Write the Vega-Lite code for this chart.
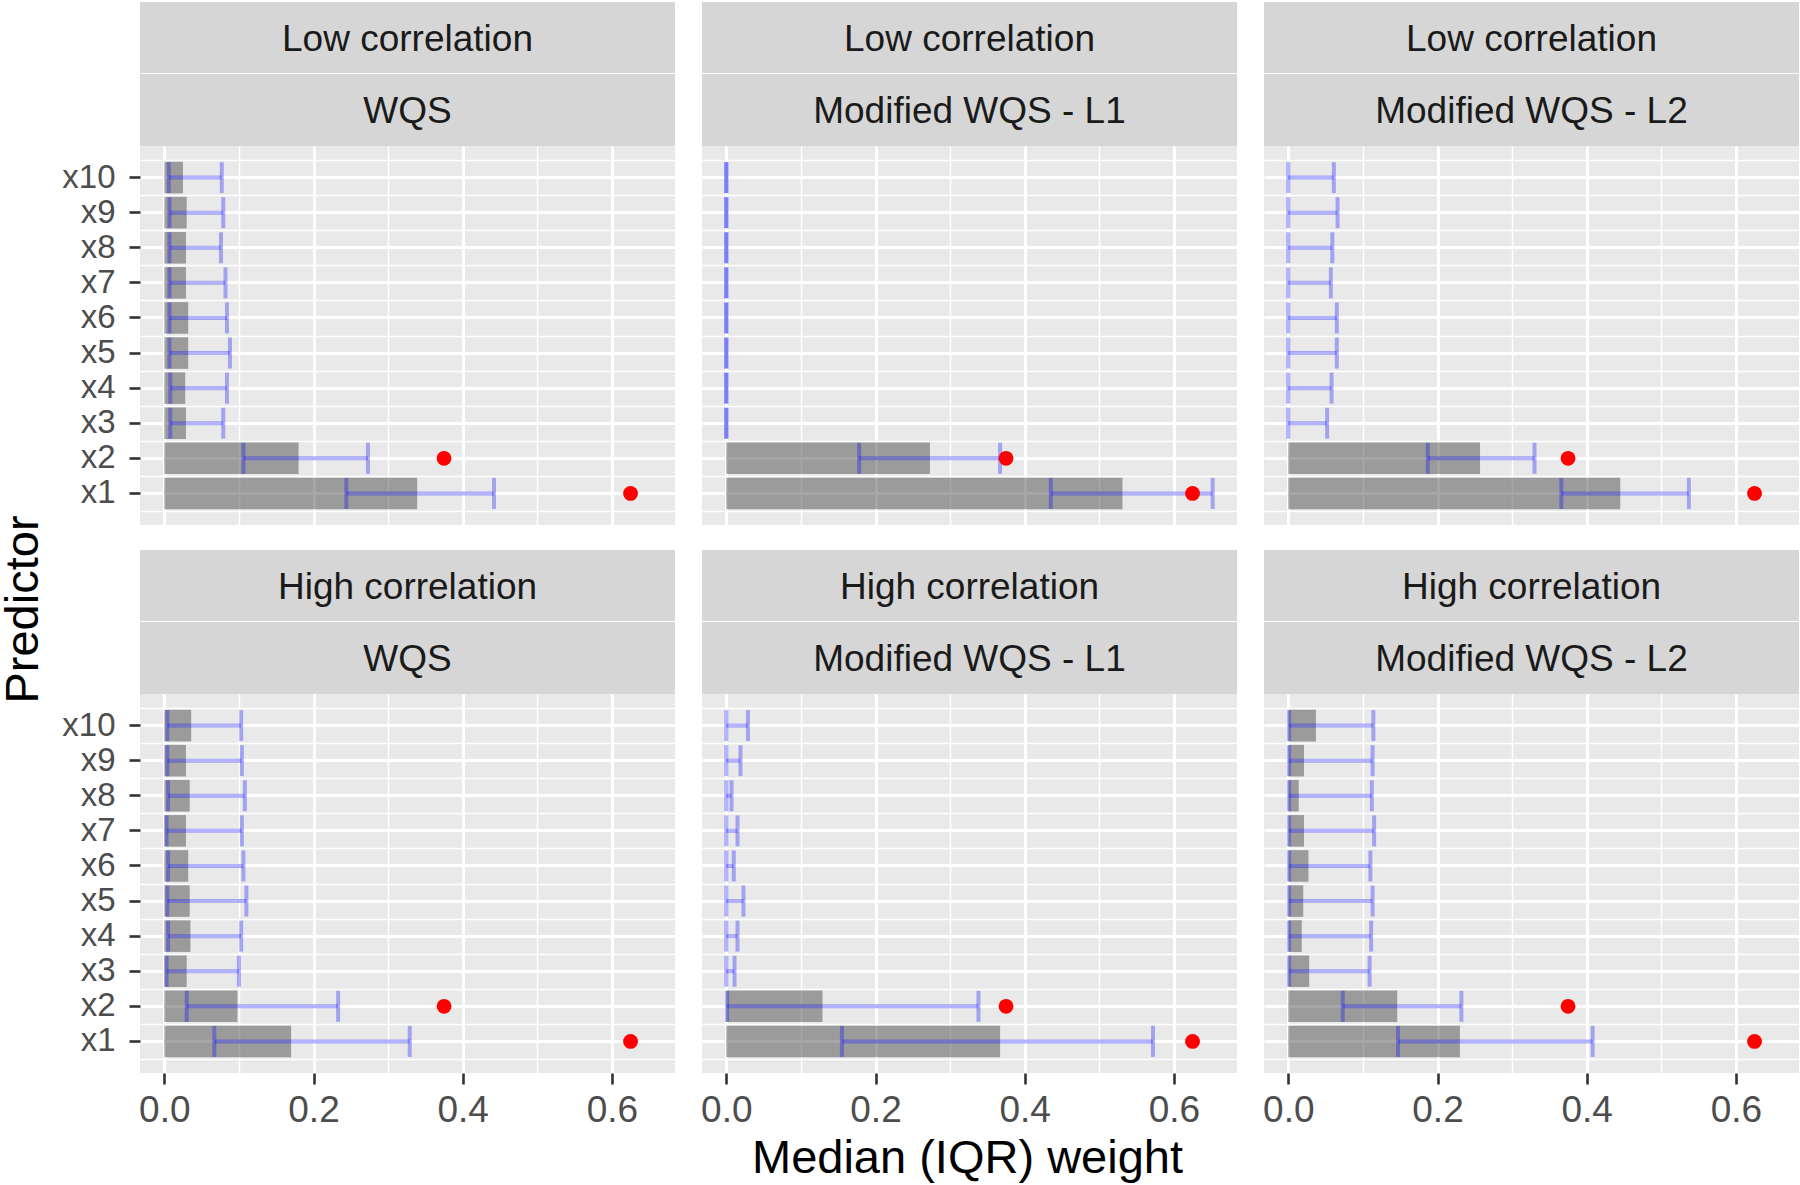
{
"$schema": "https://vega.github.io/schema/vega-lite/v6.json",
"padding": {"top": 2, "left": 0, "right": 1, "bottom": 0},
"config": {"view": {"stroke": null}, "font": "Liberation Sans"},
"datasets": {
 "w": [
  {"c":"Low","m":"WQS","p":"x1","med":0.339,"lo":0.244,"hi":0.442,"tw":0.625},
  {"c":"Low","m":"WQS","p":"x2","med":0.180,"lo":0.106,"hi":0.273,"tw":0.375},
  {"c":"Low","m":"WQS","p":"x3","med":0.029,"lo":0.008,"hi":0.079,"tw":null},
  {"c":"Low","m":"WQS","p":"x4","med":0.028,"lo":0.008,"hi":0.084,"tw":null},
  {"c":"Low","m":"WQS","p":"x5","med":0.032,"lo":0.007,"hi":0.088,"tw":null},
  {"c":"Low","m":"WQS","p":"x6","med":0.032,"lo":0.007,"hi":0.084,"tw":null},
  {"c":"Low","m":"WQS","p":"x7","med":0.029,"lo":0.007,"hi":0.082,"tw":null},
  {"c":"Low","m":"WQS","p":"x8","med":0.029,"lo":0.007,"hi":0.076,"tw":null},
  {"c":"Low","m":"WQS","p":"x9","med":0.030,"lo":0.007,"hi":0.079,"tw":null},
  {"c":"Low","m":"WQS","p":"x10","med":0.025,"lo":0.006,"hi":0.077,"tw":null},
  {"c":"Low","m":"L1","p":"x1","med":0.531,"lo":0.435,"hi":0.652,"tw":0.625},
  {"c":"Low","m":"L1","p":"x2","med":0.273,"lo":0.178,"hi":0.367,"tw":0.375},
  {"c":"Low","m":"L1","p":"x3","med":0,"lo":0,"hi":0,"tw":null},
  {"c":"Low","m":"L1","p":"x4","med":0,"lo":0,"hi":0,"tw":null},
  {"c":"Low","m":"L1","p":"x5","med":0,"lo":0,"hi":0,"tw":null},
  {"c":"Low","m":"L1","p":"x6","med":0,"lo":0,"hi":0,"tw":null},
  {"c":"Low","m":"L1","p":"x7","med":0,"lo":0,"hi":0,"tw":null},
  {"c":"Low","m":"L1","p":"x8","med":0,"lo":0,"hi":0,"tw":null},
  {"c":"Low","m":"L1","p":"x9","med":0,"lo":0,"hi":0,"tw":null},
  {"c":"Low","m":"L1","p":"x10","med":0,"lo":0,"hi":0,"tw":null},
  {"c":"Low","m":"L2","p":"x1","med":0.445,"lo":0.366,"hi":0.537,"tw":0.625},
  {"c":"Low","m":"L2","p":"x2","med":0.257,"lo":0.187,"hi":0.330,"tw":0.375},
  {"c":"Low","m":"L2","p":"x3","med":0,"lo":0,"hi":0.052,"tw":null},
  {"c":"Low","m":"L2","p":"x4","med":0,"lo":0,"hi":0.058,"tw":null},
  {"c":"Low","m":"L2","p":"x5","med":0,"lo":0,"hi":0.065,"tw":null},
  {"c":"Low","m":"L2","p":"x6","med":0,"lo":0,"hi":0.065,"tw":null},
  {"c":"Low","m":"L2","p":"x7","med":0,"lo":0,"hi":0.057,"tw":null},
  {"c":"Low","m":"L2","p":"x8","med":0,"lo":0,"hi":0.059,"tw":null},
  {"c":"Low","m":"L2","p":"x9","med":0,"lo":0,"hi":0.066,"tw":null},
  {"c":"Low","m":"L2","p":"x10","med":0,"lo":0,"hi":0.061,"tw":null},
  {"c":"High","m":"WQS","p":"x1","med":0.170,"lo":0.067,"hi":0.329,"tw":0.625},
  {"c":"High","m":"WQS","p":"x2","med":0.098,"lo":0.030,"hi":0.233,"tw":0.375},
  {"c":"High","m":"WQS","p":"x3","med":0.030,"lo":0.003,"hi":0.100,"tw":null},
  {"c":"High","m":"WQS","p":"x4","med":0.035,"lo":0.005,"hi":0.103,"tw":null},
  {"c":"High","m":"WQS","p":"x5","med":0.034,"lo":0.004,"hi":0.110,"tw":null},
  {"c":"High","m":"WQS","p":"x6","med":0.032,"lo":0.005,"hi":0.106,"tw":null},
  {"c":"High","m":"WQS","p":"x7","med":0.029,"lo":0.003,"hi":0.104,"tw":null},
  {"c":"High","m":"WQS","p":"x8","med":0.034,"lo":0.005,"hi":0.108,"tw":null},
  {"c":"High","m":"WQS","p":"x9","med":0.029,"lo":0.004,"hi":0.104,"tw":null},
  {"c":"High","m":"WQS","p":"x10","med":0.036,"lo":0.004,"hi":0.103,"tw":null},
  {"c":"High","m":"L1","p":"x1","med":0.367,"lo":0.155,"hi":0.572,"tw":0.625},
  {"c":"High","m":"L1","p":"x2","med":0.129,"lo":0.001,"hi":0.338,"tw":0.375},
  {"c":"High","m":"L1","p":"x3","med":0,"lo":0,"hi":0.011,"tw":null},
  {"c":"High","m":"L1","p":"x4","med":0,"lo":0,"hi":0.015,"tw":null},
  {"c":"High","m":"L1","p":"x5","med":0,"lo":0,"hi":0.023,"tw":null},
  {"c":"High","m":"L1","p":"x6","med":0,"lo":0,"hi":0.010,"tw":null},
  {"c":"High","m":"L1","p":"x7","med":0,"lo":0,"hi":0.015,"tw":null},
  {"c":"High","m":"L1","p":"x8","med":0,"lo":0,"hi":0.007,"tw":null},
  {"c":"High","m":"L1","p":"x9","med":0,"lo":0,"hi":0.019,"tw":null},
  {"c":"High","m":"L1","p":"x10","med":0,"lo":0,"hi":0.029,"tw":null},
  {"c":"High","m":"L2","p":"x1","med":0.230,"lo":0.147,"hi":0.408,"tw":0.625},
  {"c":"High","m":"L2","p":"x2","med":0.146,"lo":0.073,"hi":0.232,"tw":0.375},
  {"c":"High","m":"L2","p":"x3","med":0.028,"lo":0.001,"hi":0.109,"tw":null},
  {"c":"High","m":"L2","p":"x4","med":0.018,"lo":0.001,"hi":0.111,"tw":null},
  {"c":"High","m":"L2","p":"x5","med":0.020,"lo":0.001,"hi":0.113,"tw":null},
  {"c":"High","m":"L2","p":"x6","med":0.027,"lo":0.001,"hi":0.110,"tw":null},
  {"c":"High","m":"L2","p":"x7","med":0.021,"lo":0.001,"hi":0.115,"tw":null},
  {"c":"High","m":"L2","p":"x8","med":0.014,"lo":0.001,"hi":0.112,"tw":null},
  {"c":"High","m":"L2","p":"x9","med":0.021,"lo":0.001,"hi":0.113,"tw":null},
  {"c":"High","m":"L2","p":"x10","med":0.037,"lo":0.001,"hi":0.114,"tw":null}
 ]
},
"hconcat": [
 {"vconcat": [
   {"width": 38, "height": 144, "data": {"values": [{"t": ""}]}, "mark": {"type": "text"}, "encoding": {"text": {"field": "t"}}},
   {"width": 38, "height": 927, "data": {"values": [{"t": "Predictor"}]}, "mark": {"type": "text", "fontSize": 47, "color": "#000000", "angle": 270, "align": "center", "baseline": "middle"}, "encoding": {"text": {"field": "t"}}}
  ], "spacing": 0},
 {"vconcat": [
   {"concat": [
       {"vconcat": [
         {"vconcat": [
           {"width": 535, "height": 71, "view": {"fill": "#D6D6D6"}, "data": {"values": [{"t": "Low correlation"}]}, "mark": {"type": "text", "fontSize": 37, "color": "#1A1A1A", "align": "center", "baseline": "middle", "dy": 2}, "encoding": {"text": {"field": "t"}}},
           {"width": 535, "height": 72, "view": {"fill": "#D6D6D6"}, "data": {"values": [{"t": "WQS"}]}, "mark": {"type": "text", "fontSize": 37, "color": "#1A1A1A", "align": "center", "baseline": "middle", "dy": 2}, "encoding": {"text": {"field": "t"}}}
          ], "spacing": 1},
         {"width": 535, "height": 379, "view": {"fill": "#E9E9E9"}, "data": {"name": "w"},
          "transform": [{"filter": "datum.c === 'Low' && datum.m === 'WQS'"}],
          "layer": [
           {"mark": {"type": "bar", "color": "#4D4D4D", "opacity": 0.5, "height": {"band": 0.9}},
            "encoding": {
             "y": {"field": "p", "type": "nominal", "sort": ["x10","x9","x8","x7","x6","x5","x4","x3","x2","x1"], "scale": {"type": "band", "paddingInner": 0, "paddingOuter": 0.4},
                   "axis": {"title": null, "orient": "left", "domain": false, "grid": true, "gridColor": "#FFFFFF", "gridWidth": 3, "ticks": true, "tickColor": "#333333", "tickWidth": 2.6, "tickSize": 11, "labels": true, "labelFontSize": 33, "labelColor": "#4D4D4D", "labelPadding": 14}},
             "x": {"field": "med", "type": "quantitative", "scale": {"domain": [-0.0326, 0.6846], "nice": false, "zero": false},
                   "axis": {"title": null, "orient": "bottom", "values": [0, 0.2, 0.4, 0.6], "domain": false, "grid": true, "gridColor": "#FFFFFF", "gridWidth": 3, "ticks": false, "labels": false}}}},
           {"mark": {"type": "rule", "color": "#0000FF", "opacity": 0.3, "strokeWidth": 4},
            "encoding": {
             "y": {"field": "p", "type": "nominal", "sort": ["x10","x9","x8","x7","x6","x5","x4","x3","x2","x1"],
                   "axis": {"title": null, "orient": "right", "domain": false, "grid": true, "gridColor": "#FFFFFF", "gridWidth": 1.5, "ticks": false, "labels": false, "tickBand": "extent"}},
             "x": {"field": "lo", "type": "quantitative",
                   "axis": {"title": null, "orient": "top", "values": [0.1, 0.3, 0.5], "domain": false, "grid": true, "gridColor": "#FFFFFF", "gridWidth": 1.5, "ticks": false, "labels": false}},
             "x2": {"field": "hi"}}},
           {"mark": {"type": "tick", "orient": "vertical", "color": "#0000FF", "opacity": 0.3, "thickness": 4, "size": 31},
            "encoding": {"y": {"field": "p", "type": "nominal", "sort": ["x10","x9","x8","x7","x6","x5","x4","x3","x2","x1"], "axis": null}, "x": {"field": "lo", "type": "quantitative", "axis": null}}},
           {"mark": {"type": "tick", "orient": "vertical", "color": "#0000FF", "opacity": 0.3, "thickness": 4, "size": 31},
            "encoding": {"y": {"field": "p", "type": "nominal", "sort": ["x10","x9","x8","x7","x6","x5","x4","x3","x2","x1"], "axis": null}, "x": {"field": "hi", "type": "quantitative", "axis": null}}},
           {"mark": {"type": "point", "filled": true, "color": "#FF0000", "opacity": 1, "size": 220},
            "encoding": {"y": {"field": "p", "type": "nominal", "sort": ["x10","x9","x8","x7","x6","x5","x4","x3","x2","x1"], "axis": null}, "x": {"field": "tw", "type": "quantitative", "axis": null}}}
          ],
          "resolve": {"axis": {"x": "independent", "y": "independent"}}}
        ], "spacing": 0},
       {"vconcat": [
         {"vconcat": [
           {"width": 535, "height": 71, "view": {"fill": "#D6D6D6"}, "data": {"values": [{"t": "Low correlation"}]}, "mark": {"type": "text", "fontSize": 37, "color": "#1A1A1A", "align": "center", "baseline": "middle", "dy": 2}, "encoding": {"text": {"field": "t"}}},
           {"width": 535, "height": 72, "view": {"fill": "#D6D6D6"}, "data": {"values": [{"t": "Modified WQS - L1"}]}, "mark": {"type": "text", "fontSize": 37, "color": "#1A1A1A", "align": "center", "baseline": "middle", "dy": 2}, "encoding": {"text": {"field": "t"}}}
          ], "spacing": 1},
         {"width": 535, "height": 379, "view": {"fill": "#E9E9E9"}, "data": {"name": "w"},
          "transform": [{"filter": "datum.c === 'Low' && datum.m === 'L1'"}],
          "layer": [
           {"mark": {"type": "bar", "color": "#4D4D4D", "opacity": 0.5, "height": {"band": 0.9}},
            "encoding": {
             "y": {"field": "p", "type": "nominal", "sort": ["x10","x9","x8","x7","x6","x5","x4","x3","x2","x1"], "scale": {"type": "band", "paddingInner": 0, "paddingOuter": 0.4},
                   "axis": {"title": null, "orient": "left", "domain": false, "grid": true, "gridColor": "#FFFFFF", "gridWidth": 3, "ticks": false, "labels": false}},
             "x": {"field": "med", "type": "quantitative", "scale": {"domain": [-0.0326, 0.6846], "nice": false, "zero": false},
                   "axis": {"title": null, "orient": "bottom", "values": [0, 0.2, 0.4, 0.6], "domain": false, "grid": true, "gridColor": "#FFFFFF", "gridWidth": 3, "ticks": false, "labels": false}}}},
           {"mark": {"type": "rule", "color": "#0000FF", "opacity": 0.3, "strokeWidth": 4},
            "encoding": {
             "y": {"field": "p", "type": "nominal", "sort": ["x10","x9","x8","x7","x6","x5","x4","x3","x2","x1"],
                   "axis": {"title": null, "orient": "right", "domain": false, "grid": true, "gridColor": "#FFFFFF", "gridWidth": 1.5, "ticks": false, "labels": false, "tickBand": "extent"}},
             "x": {"field": "lo", "type": "quantitative",
                   "axis": {"title": null, "orient": "top", "values": [0.1, 0.3, 0.5], "domain": false, "grid": true, "gridColor": "#FFFFFF", "gridWidth": 1.5, "ticks": false, "labels": false}},
             "x2": {"field": "hi"}}},
           {"mark": {"type": "tick", "orient": "vertical", "color": "#0000FF", "opacity": 0.3, "thickness": 4, "size": 31},
            "encoding": {"y": {"field": "p", "type": "nominal", "sort": ["x10","x9","x8","x7","x6","x5","x4","x3","x2","x1"], "axis": null}, "x": {"field": "lo", "type": "quantitative", "axis": null}}},
           {"mark": {"type": "tick", "orient": "vertical", "color": "#0000FF", "opacity": 0.3, "thickness": 4, "size": 31},
            "encoding": {"y": {"field": "p", "type": "nominal", "sort": ["x10","x9","x8","x7","x6","x5","x4","x3","x2","x1"], "axis": null}, "x": {"field": "hi", "type": "quantitative", "axis": null}}},
           {"mark": {"type": "point", "filled": true, "color": "#FF0000", "opacity": 1, "size": 220},
            "encoding": {"y": {"field": "p", "type": "nominal", "sort": ["x10","x9","x8","x7","x6","x5","x4","x3","x2","x1"], "axis": null}, "x": {"field": "tw", "type": "quantitative", "axis": null}}}
          ],
          "resolve": {"axis": {"x": "independent", "y": "independent"}}}
        ], "spacing": 0},
       {"vconcat": [
         {"vconcat": [
           {"width": 535, "height": 71, "view": {"fill": "#D6D6D6"}, "data": {"values": [{"t": "Low correlation"}]}, "mark": {"type": "text", "fontSize": 37, "color": "#1A1A1A", "align": "center", "baseline": "middle", "dy": 2}, "encoding": {"text": {"field": "t"}}},
           {"width": 535, "height": 72, "view": {"fill": "#D6D6D6"}, "data": {"values": [{"t": "Modified WQS - L2"}]}, "mark": {"type": "text", "fontSize": 37, "color": "#1A1A1A", "align": "center", "baseline": "middle", "dy": 2}, "encoding": {"text": {"field": "t"}}}
          ], "spacing": 1},
         {"width": 535, "height": 379, "view": {"fill": "#E9E9E9"}, "data": {"name": "w"},
          "transform": [{"filter": "datum.c === 'Low' && datum.m === 'L2'"}],
          "layer": [
           {"mark": {"type": "bar", "color": "#4D4D4D", "opacity": 0.5, "height": {"band": 0.9}},
            "encoding": {
             "y": {"field": "p", "type": "nominal", "sort": ["x10","x9","x8","x7","x6","x5","x4","x3","x2","x1"], "scale": {"type": "band", "paddingInner": 0, "paddingOuter": 0.4},
                   "axis": {"title": null, "orient": "left", "domain": false, "grid": true, "gridColor": "#FFFFFF", "gridWidth": 3, "ticks": false, "labels": false}},
             "x": {"field": "med", "type": "quantitative", "scale": {"domain": [-0.0326, 0.6846], "nice": false, "zero": false},
                   "axis": {"title": null, "orient": "bottom", "values": [0, 0.2, 0.4, 0.6], "domain": false, "grid": true, "gridColor": "#FFFFFF", "gridWidth": 3, "ticks": false, "labels": false}}}},
           {"mark": {"type": "rule", "color": "#0000FF", "opacity": 0.3, "strokeWidth": 4},
            "encoding": {
             "y": {"field": "p", "type": "nominal", "sort": ["x10","x9","x8","x7","x6","x5","x4","x3","x2","x1"],
                   "axis": {"title": null, "orient": "right", "domain": false, "grid": true, "gridColor": "#FFFFFF", "gridWidth": 1.5, "ticks": false, "labels": false, "tickBand": "extent"}},
             "x": {"field": "lo", "type": "quantitative",
                   "axis": {"title": null, "orient": "top", "values": [0.1, 0.3, 0.5], "domain": false, "grid": true, "gridColor": "#FFFFFF", "gridWidth": 1.5, "ticks": false, "labels": false}},
             "x2": {"field": "hi"}}},
           {"mark": {"type": "tick", "orient": "vertical", "color": "#0000FF", "opacity": 0.3, "thickness": 4, "size": 31},
            "encoding": {"y": {"field": "p", "type": "nominal", "sort": ["x10","x9","x8","x7","x6","x5","x4","x3","x2","x1"], "axis": null}, "x": {"field": "lo", "type": "quantitative", "axis": null}}},
           {"mark": {"type": "tick", "orient": "vertical", "color": "#0000FF", "opacity": 0.3, "thickness": 4, "size": 31},
            "encoding": {"y": {"field": "p", "type": "nominal", "sort": ["x10","x9","x8","x7","x6","x5","x4","x3","x2","x1"], "axis": null}, "x": {"field": "hi", "type": "quantitative", "axis": null}}},
           {"mark": {"type": "point", "filled": true, "color": "#FF0000", "opacity": 1, "size": 220},
            "encoding": {"y": {"field": "p", "type": "nominal", "sort": ["x10","x9","x8","x7","x6","x5","x4","x3","x2","x1"], "axis": null}, "x": {"field": "tw", "type": "quantitative", "axis": null}}}
          ],
          "resolve": {"axis": {"x": "independent", "y": "independent"}}}
        ], "spacing": 0},
       {"vconcat": [
         {"vconcat": [
           {"width": 535, "height": 71, "view": {"fill": "#D6D6D6"}, "data": {"values": [{"t": "High correlation"}]}, "mark": {"type": "text", "fontSize": 37, "color": "#1A1A1A", "align": "center", "baseline": "middle", "dy": 2}, "encoding": {"text": {"field": "t"}}},
           {"width": 535, "height": 72, "view": {"fill": "#D6D6D6"}, "data": {"values": [{"t": "WQS"}]}, "mark": {"type": "text", "fontSize": 37, "color": "#1A1A1A", "align": "center", "baseline": "middle", "dy": 2}, "encoding": {"text": {"field": "t"}}}
          ], "spacing": 1},
         {"width": 535, "height": 379, "view": {"fill": "#E9E9E9"}, "data": {"name": "w"},
          "transform": [{"filter": "datum.c === 'High' && datum.m === 'WQS'"}],
          "layer": [
           {"mark": {"type": "bar", "color": "#4D4D4D", "opacity": 0.5, "height": {"band": 0.9}},
            "encoding": {
             "y": {"field": "p", "type": "nominal", "sort": ["x10","x9","x8","x7","x6","x5","x4","x3","x2","x1"], "scale": {"type": "band", "paddingInner": 0, "paddingOuter": 0.4},
                   "axis": {"title": null, "orient": "left", "domain": false, "grid": true, "gridColor": "#FFFFFF", "gridWidth": 3, "ticks": true, "tickColor": "#333333", "tickWidth": 2.6, "tickSize": 11, "labels": true, "labelFontSize": 33, "labelColor": "#4D4D4D", "labelPadding": 14}},
             "x": {"field": "med", "type": "quantitative", "scale": {"domain": [-0.0326, 0.6846], "nice": false, "zero": false},
                   "axis": {"title": null, "orient": "bottom", "values": [0, 0.2, 0.4, 0.6], "format": ".1f", "domain": false, "grid": true, "gridColor": "#FFFFFF", "gridWidth": 3, "ticks": true, "tickColor": "#333333", "tickWidth": 2.6, "tickSize": 11, "labels": true, "labelFontSize": 37, "labelColor": "#4D4D4D", "labelPadding": 8, "labelFlush": false}}}},
           {"mark": {"type": "rule", "color": "#0000FF", "opacity": 0.3, "strokeWidth": 4},
            "encoding": {
             "y": {"field": "p", "type": "nominal", "sort": ["x10","x9","x8","x7","x6","x5","x4","x3","x2","x1"],
                   "axis": {"title": null, "orient": "right", "domain": false, "grid": true, "gridColor": "#FFFFFF", "gridWidth": 1.5, "ticks": false, "labels": false, "tickBand": "extent"}},
             "x": {"field": "lo", "type": "quantitative",
                   "axis": {"title": null, "orient": "top", "values": [0.1, 0.3, 0.5], "domain": false, "grid": true, "gridColor": "#FFFFFF", "gridWidth": 1.5, "ticks": false, "labels": false}},
             "x2": {"field": "hi"}}},
           {"mark": {"type": "tick", "orient": "vertical", "color": "#0000FF", "opacity": 0.3, "thickness": 4, "size": 31},
            "encoding": {"y": {"field": "p", "type": "nominal", "sort": ["x10","x9","x8","x7","x6","x5","x4","x3","x2","x1"], "axis": null}, "x": {"field": "lo", "type": "quantitative", "axis": null}}},
           {"mark": {"type": "tick", "orient": "vertical", "color": "#0000FF", "opacity": 0.3, "thickness": 4, "size": 31},
            "encoding": {"y": {"field": "p", "type": "nominal", "sort": ["x10","x9","x8","x7","x6","x5","x4","x3","x2","x1"], "axis": null}, "x": {"field": "hi", "type": "quantitative", "axis": null}}},
           {"mark": {"type": "point", "filled": true, "color": "#FF0000", "opacity": 1, "size": 220},
            "encoding": {"y": {"field": "p", "type": "nominal", "sort": ["x10","x9","x8","x7","x6","x5","x4","x3","x2","x1"], "axis": null}, "x": {"field": "tw", "type": "quantitative", "axis": null}}}
          ],
          "resolve": {"axis": {"x": "independent", "y": "independent"}}}
        ], "spacing": 0},
       {"vconcat": [
         {"vconcat": [
           {"width": 535, "height": 71, "view": {"fill": "#D6D6D6"}, "data": {"values": [{"t": "High correlation"}]}, "mark": {"type": "text", "fontSize": 37, "color": "#1A1A1A", "align": "center", "baseline": "middle", "dy": 2}, "encoding": {"text": {"field": "t"}}},
           {"width": 535, "height": 72, "view": {"fill": "#D6D6D6"}, "data": {"values": [{"t": "Modified WQS - L1"}]}, "mark": {"type": "text", "fontSize": 37, "color": "#1A1A1A", "align": "center", "baseline": "middle", "dy": 2}, "encoding": {"text": {"field": "t"}}}
          ], "spacing": 1},
         {"width": 535, "height": 379, "view": {"fill": "#E9E9E9"}, "data": {"name": "w"},
          "transform": [{"filter": "datum.c === 'High' && datum.m === 'L1'"}],
          "layer": [
           {"mark": {"type": "bar", "color": "#4D4D4D", "opacity": 0.5, "height": {"band": 0.9}},
            "encoding": {
             "y": {"field": "p", "type": "nominal", "sort": ["x10","x9","x8","x7","x6","x5","x4","x3","x2","x1"], "scale": {"type": "band", "paddingInner": 0, "paddingOuter": 0.4},
                   "axis": {"title": null, "orient": "left", "domain": false, "grid": true, "gridColor": "#FFFFFF", "gridWidth": 3, "ticks": false, "labels": false}},
             "x": {"field": "med", "type": "quantitative", "scale": {"domain": [-0.0326, 0.6846], "nice": false, "zero": false},
                   "axis": {"title": null, "orient": "bottom", "values": [0, 0.2, 0.4, 0.6], "format": ".1f", "domain": false, "grid": true, "gridColor": "#FFFFFF", "gridWidth": 3, "ticks": true, "tickColor": "#333333", "tickWidth": 2.6, "tickSize": 11, "labels": true, "labelFontSize": 37, "labelColor": "#4D4D4D", "labelPadding": 8, "labelFlush": false}}}},
           {"mark": {"type": "rule", "color": "#0000FF", "opacity": 0.3, "strokeWidth": 4},
            "encoding": {
             "y": {"field": "p", "type": "nominal", "sort": ["x10","x9","x8","x7","x6","x5","x4","x3","x2","x1"],
                   "axis": {"title": null, "orient": "right", "domain": false, "grid": true, "gridColor": "#FFFFFF", "gridWidth": 1.5, "ticks": false, "labels": false, "tickBand": "extent"}},
             "x": {"field": "lo", "type": "quantitative",
                   "axis": {"title": null, "orient": "top", "values": [0.1, 0.3, 0.5], "domain": false, "grid": true, "gridColor": "#FFFFFF", "gridWidth": 1.5, "ticks": false, "labels": false}},
             "x2": {"field": "hi"}}},
           {"mark": {"type": "tick", "orient": "vertical", "color": "#0000FF", "opacity": 0.3, "thickness": 4, "size": 31},
            "encoding": {"y": {"field": "p", "type": "nominal", "sort": ["x10","x9","x8","x7","x6","x5","x4","x3","x2","x1"], "axis": null}, "x": {"field": "lo", "type": "quantitative", "axis": null}}},
           {"mark": {"type": "tick", "orient": "vertical", "color": "#0000FF", "opacity": 0.3, "thickness": 4, "size": 31},
            "encoding": {"y": {"field": "p", "type": "nominal", "sort": ["x10","x9","x8","x7","x6","x5","x4","x3","x2","x1"], "axis": null}, "x": {"field": "hi", "type": "quantitative", "axis": null}}},
           {"mark": {"type": "point", "filled": true, "color": "#FF0000", "opacity": 1, "size": 220},
            "encoding": {"y": {"field": "p", "type": "nominal", "sort": ["x10","x9","x8","x7","x6","x5","x4","x3","x2","x1"], "axis": null}, "x": {"field": "tw", "type": "quantitative", "axis": null}}}
          ],
          "resolve": {"axis": {"x": "independent", "y": "independent"}}}
        ], "spacing": 0},
       {"vconcat": [
         {"vconcat": [
           {"width": 535, "height": 71, "view": {"fill": "#D6D6D6"}, "data": {"values": [{"t": "High correlation"}]}, "mark": {"type": "text", "fontSize": 37, "color": "#1A1A1A", "align": "center", "baseline": "middle", "dy": 2}, "encoding": {"text": {"field": "t"}}},
           {"width": 535, "height": 72, "view": {"fill": "#D6D6D6"}, "data": {"values": [{"t": "Modified WQS - L2"}]}, "mark": {"type": "text", "fontSize": 37, "color": "#1A1A1A", "align": "center", "baseline": "middle", "dy": 2}, "encoding": {"text": {"field": "t"}}}
          ], "spacing": 1},
         {"width": 535, "height": 379, "view": {"fill": "#E9E9E9"}, "data": {"name": "w"},
          "transform": [{"filter": "datum.c === 'High' && datum.m === 'L2'"}],
          "layer": [
           {"mark": {"type": "bar", "color": "#4D4D4D", "opacity": 0.5, "height": {"band": 0.9}},
            "encoding": {
             "y": {"field": "p", "type": "nominal", "sort": ["x10","x9","x8","x7","x6","x5","x4","x3","x2","x1"], "scale": {"type": "band", "paddingInner": 0, "paddingOuter": 0.4},
                   "axis": {"title": null, "orient": "left", "domain": false, "grid": true, "gridColor": "#FFFFFF", "gridWidth": 3, "ticks": false, "labels": false}},
             "x": {"field": "med", "type": "quantitative", "scale": {"domain": [-0.0326, 0.6846], "nice": false, "zero": false},
                   "axis": {"title": null, "orient": "bottom", "values": [0, 0.2, 0.4, 0.6], "format": ".1f", "domain": false, "grid": true, "gridColor": "#FFFFFF", "gridWidth": 3, "ticks": true, "tickColor": "#333333", "tickWidth": 2.6, "tickSize": 11, "labels": true, "labelFontSize": 37, "labelColor": "#4D4D4D", "labelPadding": 8, "labelFlush": false}}}},
           {"mark": {"type": "rule", "color": "#0000FF", "opacity": 0.3, "strokeWidth": 4},
            "encoding": {
             "y": {"field": "p", "type": "nominal", "sort": ["x10","x9","x8","x7","x6","x5","x4","x3","x2","x1"],
                   "axis": {"title": null, "orient": "right", "domain": false, "grid": true, "gridColor": "#FFFFFF", "gridWidth": 1.5, "ticks": false, "labels": false, "tickBand": "extent"}},
             "x": {"field": "lo", "type": "quantitative",
                   "axis": {"title": null, "orient": "top", "values": [0.1, 0.3, 0.5], "domain": false, "grid": true, "gridColor": "#FFFFFF", "gridWidth": 1.5, "ticks": false, "labels": false}},
             "x2": {"field": "hi"}}},
           {"mark": {"type": "tick", "orient": "vertical", "color": "#0000FF", "opacity": 0.3, "thickness": 4, "size": 31},
            "encoding": {"y": {"field": "p", "type": "nominal", "sort": ["x10","x9","x8","x7","x6","x5","x4","x3","x2","x1"], "axis": null}, "x": {"field": "lo", "type": "quantitative", "axis": null}}},
           {"mark": {"type": "tick", "orient": "vertical", "color": "#0000FF", "opacity": 0.3, "thickness": 4, "size": 31},
            "encoding": {"y": {"field": "p", "type": "nominal", "sort": ["x10","x9","x8","x7","x6","x5","x4","x3","x2","x1"], "axis": null}, "x": {"field": "hi", "type": "quantitative", "axis": null}}},
           {"mark": {"type": "point", "filled": true, "color": "#FF0000", "opacity": 1, "size": 220},
            "encoding": {"y": {"field": "p", "type": "nominal", "sort": ["x10","x9","x8","x7","x6","x5","x4","x3","x2","x1"], "axis": null}, "x": {"field": "tw", "type": "quantitative", "axis": null}}}
          ],
          "resolve": {"axis": {"x": "independent", "y": "independent"}}}
        ], "spacing": 0}
    ], "columns": 3, "spacing": {"row": 25, "column": 25}},
   {"width": 1655, "height": 58, "data": {"values": [{"t": "Median (IQR) weight"}]}, "mark": {"type": "text", "fontSize": 47, "color": "#000000", "align": "center", "baseline": "middle", "dy": 2}, "encoding": {"text": {"field": "t"}}}
  ], "spacing": 0}
], "spacing": 14}
